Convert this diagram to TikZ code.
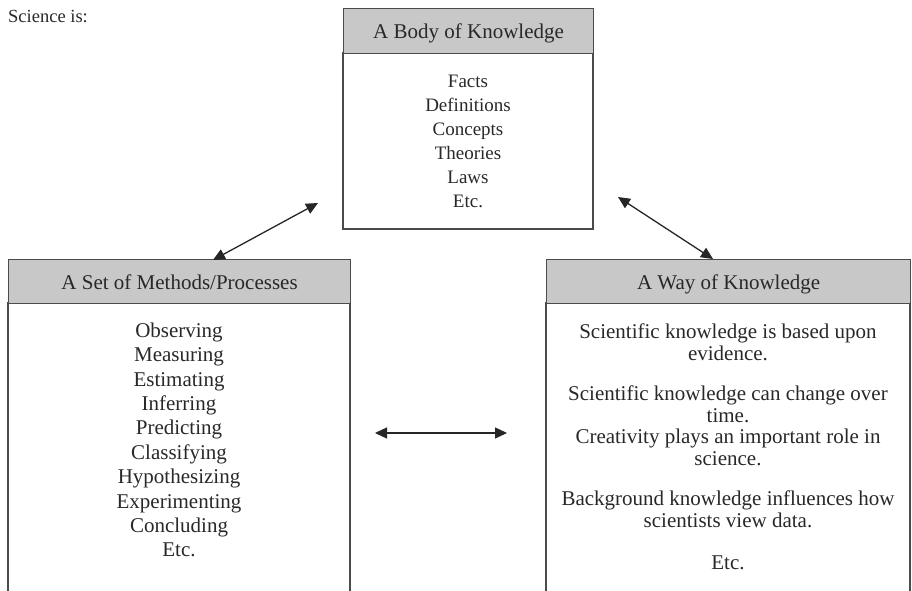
\documentclass[tikz,border=0pt]{standalone}
\usepackage{fontspec}
\setmainfont{Liberation Serif}
\usetikzlibrary{arrows.meta}
\definecolor{hdrgray}{RGB}{200,200,200}
\definecolor{linegray}{RGB}{75,75,75}
\definecolor{txtgray}{RGB}{40,40,40}
\tikzset{
  boxline/.style={draw=linegray,line width=1.2pt},
  hdrbox/.style={boxline,fill=hdrgray,inner sep=0pt,anchor=north west,text=txtgray,text height=17pt,text depth=2pt,font=\fontsize{21}{24}\selectfont},
  listtext/.style={inner sep=0pt,align=center,text=txtgray,font=\fontsize{19}{24}\selectfont},
  dblarrow/.style={line width=1.3pt,draw=black!85,{Triangle[length=12pt,width=11pt]}-{Triangle[length=12pt,width=11pt]},shorten >=0pt,shorten <=0pt}
}
\begin{document}
\begin{tikzpicture}[x=1pt,y=1pt,yscale=-1,xscale=1]
\useasboundingbox (0,0) rectangle (912,591);

% Text Node
\node [anchor=west,inner sep=0pt,text=txtgray,font=\fontsize{18.5}{20}\selectfont] (sciis) at (8,17) {Science is:};

%Box: A Body of Knowledge
\draw [boxline] (343,53) rectangle (593,229);
\node [hdrbox,minimum width=250,minimum height=45] (bodyhdr) at (343,8) {A Body of Knowledge};
% Text Node
\node [listtext] (bodylist) at (468,141) {Facts\\Definitions\\Concepts\\Theories\\Laws\\Etc.};

%Box: A Set of Methods/Processes (open at the bottom)
\draw [boxline] (8,591) -- (8,303) -- (350,303) -- (350,591);
\node [hdrbox,minimum width=342,minimum height=44] (methhdr) at (8,259) {A Set of Methods/Processes};
% Text Node
\node [listtext,font=\fontsize{21}{24.4}\selectfont] (methlist) at (179,440) {Observing\\Measuring\\Estimating\\Inferring\\Predicting\\Classifying\\Hypothesizing\\Experimenting\\Concluding\\Etc.};

%Box: A Way of Knowledge (open at the bottom)
\draw [boxline] (546,591) -- (546,303) -- (910,303) -- (910,591);
\node [hdrbox,minimum width=364,minimum height=44] (wayhdr) at (546,259) {A Way of Knowledge};
% Text Node
\node [listtext,font=\fontsize{21}{21.5}\selectfont] (waylist) at (728,447) {Scientific knowledge is based upon\\evidence.\\[19pt]Scientific knowledge can change over\\time.\\Creativity plays an important role in\\science.\\[19pt]Background knowledge influences how\\scientists view data.\\[21pt]Etc.};

%Arrows
\coordinate (bodyL) at (318,203);
\coordinate (methT) at (213,260);
\coordinate (bodyR) at (618,197);
\coordinate (wayT) at (713,259);
\coordinate (methR) at (375,433);
\coordinate (wayL) at (507,433);
\draw [dblarrow] (methT) -- (bodyL);
\draw [dblarrow] (bodyR) -- (wayT);
\draw [dblarrow] (methR) -- (wayL);

\end{tikzpicture}
\end{document}
